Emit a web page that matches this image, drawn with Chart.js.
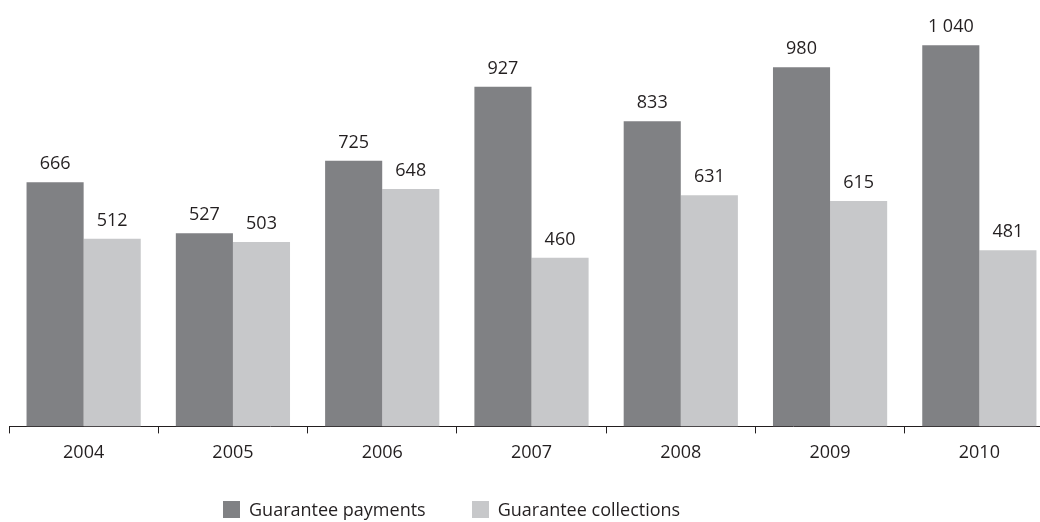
<!DOCTYPE html>
<html>
<head>
<meta charset="utf-8">
<script src="https://cdn.jsdelivr.net/npm/chart.js@4.4.0/dist/chart.umd.min.js"></script>
<style>
    html, body { margin: 0; padding: 0; background: #fff; overflow: hidden; }
    #wrap { position: relative; width: 1054px; height: 522px; }
    #legend {
        position: absolute; left: 223px; top: 497px;
        font-family: "Open Sans", sans-serif; font-size: 18px; color: #231f20;
        display: flex; align-items: center; white-space: nowrap;
    }
    #legend span.box { display: inline-block; width: 17px; height: 17px; margin-right: 9px; }
    #legend span.item { display: inline-flex; align-items: center; margin-right: 46px; }
</style>
</head>
<body>
<div id="wrap">
    <canvas id="chart" width="1054" height="522"></canvas>
    <div id="legend"></div>
</div>
<script>
const years = ['2004', '2005', '2006', '2007', '2008', '2009', '2010'];
const payments = [666, 527, 725, 927, 833, 980, 1040];
const collections = [512, 503, 648, 460, 631, 615, 481];
const seriesNames = ['Guarantee payments', 'Guarantee collections'];
const seriesColors = ['#808184', '#c7c8ca'];

const fontFamily = '"Open Sans", sans-serif';
const textColor = '#231f20';

function fmt(v) {
    return String(v).replace(/\B(?=(\d{3})+(?!\d))/g, ' ');
}

// value labels above each bar
const barLabels = {
    id: 'barLabels',
    afterDatasetsDraw(chart) {
        const ctx = chart.ctx;
        ctx.save();
        ctx.font = `18px ${fontFamily}`;
        ctx.fillStyle = textColor;
        ctx.textAlign = 'center';
        ctx.textBaseline = 'bottom';
        chart.data.datasets.forEach((ds, i) => {
            chart.getDatasetMeta(i).data.forEach((bar, j) => {
                ctx.fillText(fmt(ds.data[j]), bar.x, bar.y - 9);
            });
        });
        ctx.restore();
    }
};

const chart = new Chart(document.getElementById('chart'), {
    type: 'bar',
    data: {
        labels: years,
        datasets: [
            { label: seriesNames[0], data: payments, backgroundColor: seriesColors[0] },
            { label: seriesNames[1], data: collections, backgroundColor: seriesColors[1] }
        ]
    },
    options: {
        responsive: false,
        animation: false,
        layout: { padding: { left: 9, right: 0, top: 5, bottom: 49 } },
        datasets: { bar: { categoryPercentage: 0.765, barPercentage: 1.0 } },
        plugins: { legend: { display: false }, tooltip: { enabled: false } },
        scales: {
            x: {
                grid: { offset: true, drawOnChartArea: false, tickLength: 7, color: '#231f20', tickWidth: 1 },
                border: { color: '#231f20', width: 1 },
                ticks: { font: { family: fontFamily, size: 18 }, color: textColor, padding: 9 }
            },
            y: { display: false, min: 0, max: 1150 }
        }
    },
    plugins: [barLabels]
});

document.getElementById('legend').innerHTML = seriesNames.map((n, i) =>
    `<span class="item"><span class="box" style="background:${seriesColors[i]}"></span>${n}</span>`
).join('');
</script>
</body>
</html>
